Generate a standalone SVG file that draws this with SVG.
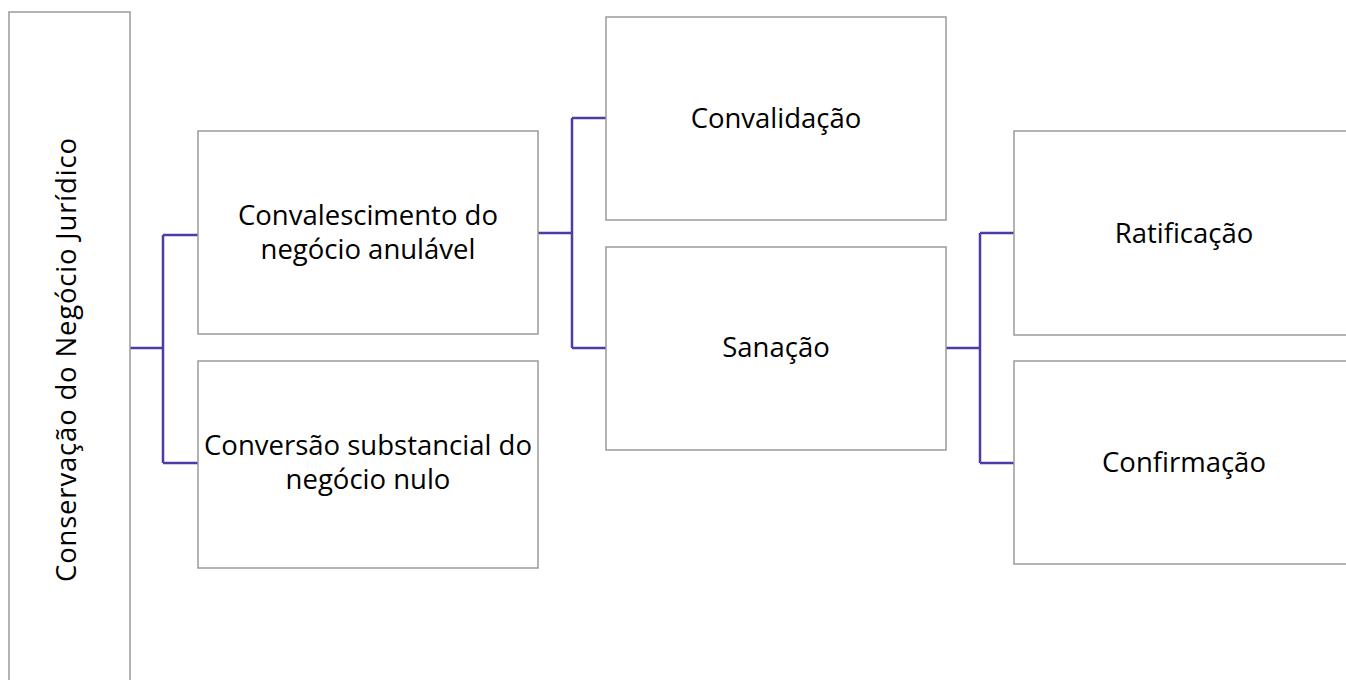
<svg xmlns="http://www.w3.org/2000/svg" width="1346" height="680" viewBox="0 0 1346 680">
<style>
.box{fill:#ffffff;stroke:#9a9a9a;stroke-width:1.5}
.lbl{font-family:"Open Sans","Noto Sans","Liberation Sans",sans-serif;font-size:27.5px;fill:#000000;text-anchor:middle}
.con{fill:none;stroke:#4b3ca8;stroke-width:2.5}
</style>
<rect width="1346" height="680" fill="#ffffff"/>
<g id="connectors">
<path class="con" d="M130,348 H163 M163,235 V463 M163,235 H198 M163,463 H198"/>
<path class="con" d="M538,233 H572 M572,118 V348 M572,118 H606 M572,348 H606"/>
<path class="con" d="M946,348 H980 M980,233 V463 M980,233 H1014 M980,463 H1014"/>
</g>
<g id="n-root">
<rect class="box" x="9" y="12" width="121" height="700"/>
<text class="lbl" transform="translate(76,360) rotate(-90)" textLength="444" lengthAdjust="spacing">Conservação do Negócio Jurídico</text>
</g>
<g id="n-convalescimento">
<rect class="box" x="198" y="131" width="340" height="203"/>
<text class="lbl" x="368" y="225">Convalescimento do</text>
<text class="lbl" x="368" y="259">negócio anulável</text>
</g>
<g id="n-conversao">
<rect class="box" x="198" y="361" width="340" height="207"/>
<text class="lbl" x="368" y="455">Conversão substancial do</text>
<text class="lbl" x="368" y="489">negócio nulo</text>
</g>
<g id="n-convalidacao">
<rect class="box" x="606" y="17" width="340" height="203"/>
<text class="lbl" x="776" y="128">Convalidação</text>
</g>
<g id="n-sanacao">
<rect class="box" x="606" y="247" width="340" height="203"/>
<text class="lbl" x="776" y="357">Sanação</text>
</g>
<g id="n-ratificacao">
<rect class="box" x="1014" y="131" width="340" height="204"/>
<text class="lbl" x="1184" y="243">Ratificação</text>
</g>
<g id="n-confirmacao">
<rect class="box" x="1014" y="361" width="340" height="203"/>
<text class="lbl" x="1184" y="472">Confirmação</text>
</g>
</svg>
